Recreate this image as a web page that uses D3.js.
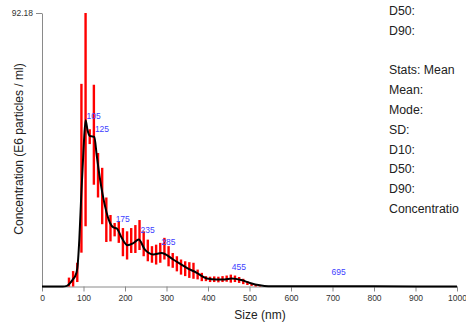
<!DOCTYPE html>
<html>
<head>
<meta charset="utf-8">
<script src="https://cdn.jsdelivr.net/npm/d3@7"></script>
<style>
    body { margin: 0; background: #fff; }
    svg { display: block; font-family: "Liberation Sans", Arial, Helvetica, sans-serif; }
</style>
</head>
<body>
<div id="chart"></div>
<script>
// ---------------------------//
//       DATA                 //
// ---------------------------//
// black mean curve (size nm, concentration E6/ml)
let curveSizes = [0, 50, 60, 68, 75, 80, 85, 90, 95, 100, 105, 110, 115, 120, 126, 132, 140, 152, 164, 172, 180, 192, 206, 220, 233, 248, 268, 288, 316, 349, 373, 397, 421, 440, 457, 480, 501, 525, 545, 600, 695, 800, 1000]
let curveValues = [0, 0, 0.2, 1.2, 2.5, 3.5, 6, 16, 32, 46, 56, 52.5, 50.8, 50.6, 50.4, 44, 36, 27, 21.4, 19.9, 19.6, 16.4, 13.9, 14.6, 15.8, 12.4, 10.8, 11.3, 9.1, 6.3, 4.6, 2.7, 2.4, 2.4, 2.7, 2.2, 1.2, 0.4, 0.1, 0.05, 0.1, 0.05, 0]

// red error bars, one per 10 nm bin
let binSizes = [65, 75, 85, 95, 105, 115, 125, 135, 145, 155, 165, 175, 185, 195, 205, 215, 225, 235, 245, 255, 265, 275, 285, 295, 305, 315, 325, 335, 345, 355, 365, 375, 385, 395, 405, 415, 425, 435, 445, 455, 465, 475, 485, 495, 505, 515, 525]
let binLow = [0, 0, 1.5, 11.4, 20.3, 48, 34.3, 30, 21, 15, 15.2, 16.9, 14.7, 10.2, 9.1, 11.3, 11.3, 12.3, 10.2, 8.5, 8, 7.4, 8, 9.1, 6.8, 6.3, 5.1, 4, 3.5, 2.9, 2.6, 2.4, 1.8, 1.8, 1.5, 1.5, 1.4, 1.5, 1.6, 1.3, 1.5, 1.2, 0.8, 0.5, 0.2, 0, 0]
let binHigh = [3, 5.2, 8, 68.3, 92.18, 53, 68, 45, 40, 30, 24.1, 21.4, 22, 19.7, 18.6, 19.7, 20.7, 22.4, 18.6, 15.8, 13.6, 14.1, 14.7, 16.4, 13.6, 11.3, 10.2, 9.1, 8.5, 8.2, 8, 5.7, 4.6, 3.5, 3.3, 3.4, 3.3, 3.5, 3.7, 4, 3.7, 3.2, 2.6, 1.8, 1.2, 0.8, 0.4]

// peak labels
let peakSizes = [105, 125, 175, 235, 285, 455, 695]
let peakLabelValues = [56.6, 52.2, 21.6, 18.0, 14.0, 5.6, 4.0]

let xTicks = [0, 100, 200, 300, 400, 500, 600, 700, 800, 900, 1000]
let yMax = 92.18

let statsLines = ["D50:", "D90:", "", "Stats: Mean", "Mean:", "Mode:", "SD:", "D10:", "D50:", "D90:", "Concentratio"]

// ---------------------------//
//       SETUP                //
// ---------------------------//
let width = 466,
    height = 325;

let svg = d3.select("#chart")
    .append("svg")
    .attr("width", width)
    .attr("height", height);

let x = d3.scaleLinear()
    .domain([0, 1000])
    .range([42, 457]);

let y = d3.scaleLinear()
    .domain([0, yMax])
    .range([286.5, 13]);

// X axis
let xAxis = svg.append("g")
    .attr("transform", "translate(0," + y(0) + ")")
    .call(d3.axisBottom(x).tickValues(xTicks).tickFormat(d3.format("d")).tickSize(5).tickSizeOuter(0).tickPadding(3));
xAxis.selectAll("path, line").attr("stroke", "#8a8a8a");
xAxis.selectAll("text").attr("fill", "#333").style("font-size", "8.5px");

// Y axis - only the max tick
let yAxis = svg.append("g")
    .attr("transform", "translate(" + x(0) + ",0)")
    .call(d3.axisLeft(y).tickValues([yMax]).tickFormat(d3.format(".2f")).tickSize(6).tickSizeOuter(0).tickPadding(3));
yAxis.selectAll("path, line").attr("stroke", "#8a8a8a");
yAxis.selectAll("text").attr("fill", "#333").style("font-size", "8.5px");

// axis titles
svg.append("text")
    .attr("x", 260)
    .attr("y", 319)
    .attr("text-anchor", "middle")
    .style("font-size", "12px")
    .attr("fill", "#222")
    .text("Size (nm)");

svg.append("text")
    .attr("transform", "translate(23,149) rotate(-90)")
    .attr("text-anchor", "middle")
    .style("font-size", "12px")
    .attr("fill", "#222")
    .text("Concentration (E6 particles / ml)");

// ---------------------------//
//       ERROR BARS           //
// ---------------------------//
svg.append("g")
    .selectAll("line")
    .data(binSizes)
    .enter()
    .append("line")
    .attr("x1", d => x(d))
    .attr("x2", d => x(d))
    .attr("y1", (d, i) => y(binLow[i]))
    .attr("y2", (d, i) => y(binHigh[i]))
    .attr("stroke", "#ff0000")
    .attr("stroke-width", 2.4);

// ---------------------------//
//       MEAN CURVE           //
// ---------------------------//
let line = d3.line()
    .x(d => x(d[0]))
    .y(d => y(d[1]))
    .curve(d3.curveMonotoneX);

svg.append("path")
    .datum(curveSizes.map((s, i) => [s, curveValues[i]]))
    .attr("d", line)
    .attr("fill", "none")
    .attr("stroke", "#000")
    .attr("stroke-width", 2);

// peak labels
svg.append("g")
    .selectAll("text")
    .data(peakSizes)
    .enter()
    .append("text")
    .attr("x", d => x(d) + 1)
    .attr("y", (d, i) => y(peakLabelValues[i]))
    .style("font-size", "8.5px")
    .attr("fill", "#4040ff")
    .text(d => d);

// ---------------------------//
//       STATS PANEL          //
// ---------------------------//
svg.append("g")
    .selectAll("text")
    .data(statsLines)
    .enter()
    .append("text")
    .attr("x", 389)
    .attr("y", (d, i) => 15 + i * 19.8)
    .style("font-size", "12.3px")
    .attr("fill", "#222")
    .text(d => d);
</script>
</body>
</html>
